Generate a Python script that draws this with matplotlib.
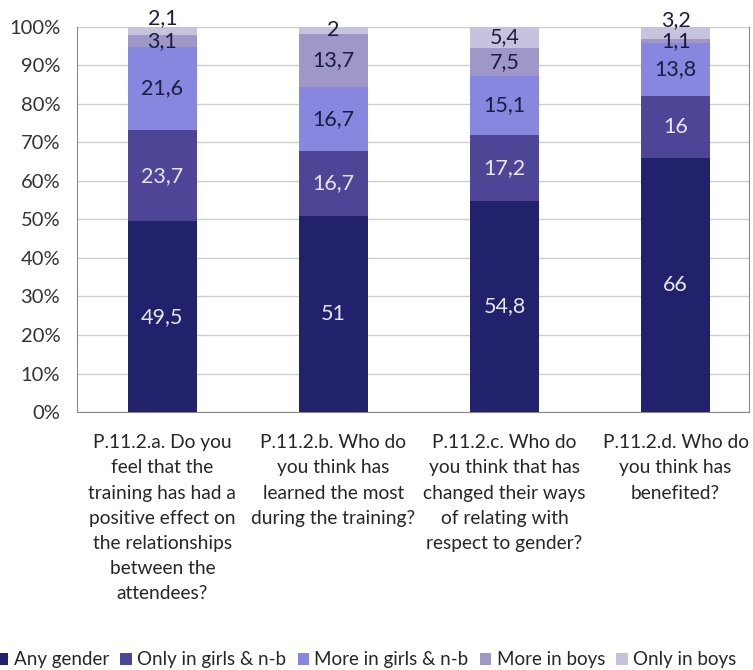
import matplotlib
matplotlib.use('Agg')
import matplotlib.pyplot as plt
import numpy as np

plt.rcParams['font.family'] = ['Lato', 'DejaVu Sans']

questions = [
    'P.11.2.a. Do you\nfeel that the\ntraining has had a\npositive effect on\nthe relationships\nbetween the\nattendees?',
    'P.11.2.b. Who do\nyou think has\nlearned the most\nduring the training?',
    'P.11.2.c. Who do\nyou think that has\nchanged their ways\nof relating with\nrespect to gender?',
    'P.11.2.d. Who do\nyou think has\nbenefited?',
]
series = ['Any gender', 'Only in girls & n-b', 'More in girls & n-b',
          'More in boys', 'Only in boys']
any_gender = [49.5, 51, 54.8, 66]
only_girls = [23.7, 16.7, 17.2, 16]
more_girls = [21.6, 16.7, 15.1, 13.8]
more_boys = [3.1, 13.7, 7.5, 1.1]
only_boys = [2.1, 2, 5.4, 3.2]

colors = ['#22216b', '#4f4597', '#8787e0', '#9f97c7', '#c6c3de']
label_colors = ['#e6e6f2', '#e6e6f2', '#1c1c40', '#1c1c40', '#1c1c40']

fig = plt.figure(figsize=(7.53, 6.70), dpi=100)
ax = fig.add_axes([0.102, 0.385, 0.893, 0.575])

x = np.arange(len(questions))
bottom = np.zeros(len(questions))
values = [any_gender, only_girls, more_girls, more_boys, only_boys]
prev = None
for name, vals, c, lc in zip(series, values, colors, label_colors):
    vals = np.array(vals)
    ax.bar(x, vals, 0.4, bottom=bottom, color=c, label=name, zorder=3)
    for i, v in enumerate(vals):
        # nudge the top label up when the segment under it is thin too
        dy = 0
        if name == 'Only in boys' and prev is not None and prev[i] < 5:
            dy = 9
        ax.annotate(('%g' % v).replace('.', ','), (x[i], bottom[i] + v / 2),
                    xytext=(0, dy), textcoords='offset points',
                    ha='center', va='center', color=lc, fontsize=15.5,
                    zorder=4)
    bottom += vals
    prev = vals

ax.set_ylim(0, 100)
ax.set_xlim(-0.5, 3.43)
ax.set_yticks(np.arange(0, 101, 10))
ax.set_yticklabels(['%d%%' % t for t in range(0, 101, 10)], fontsize=14.5,
                   color='#333333')
ax.set_xticks(x)
ax.set_xticklabels(questions, fontsize=13.8, color='#262626', linespacing=1.58,
                   va='top')
ax.tick_params(length=0)
ax.tick_params(axis='y', pad=12)
ax.tick_params(axis='x', pad=16)
ax.grid(axis='y', color='#cfcfcf', linewidth=1, zorder=0)
ax.spines['top'].set_visible(False)
for s in ['left', 'bottom', 'right']:
    ax.spines[s].set_color('#888888')

fig.legend(loc='center', bbox_to_anchor=(0.487, 0.015), ncol=5,
           frameon=False, fontsize=13.5, handlelength=0.6, handleheight=0.6,
           handletextpad=0.3, columnspacing=0.6, labelcolor='#262626')

fig.savefig('out.png', dpi=100)
